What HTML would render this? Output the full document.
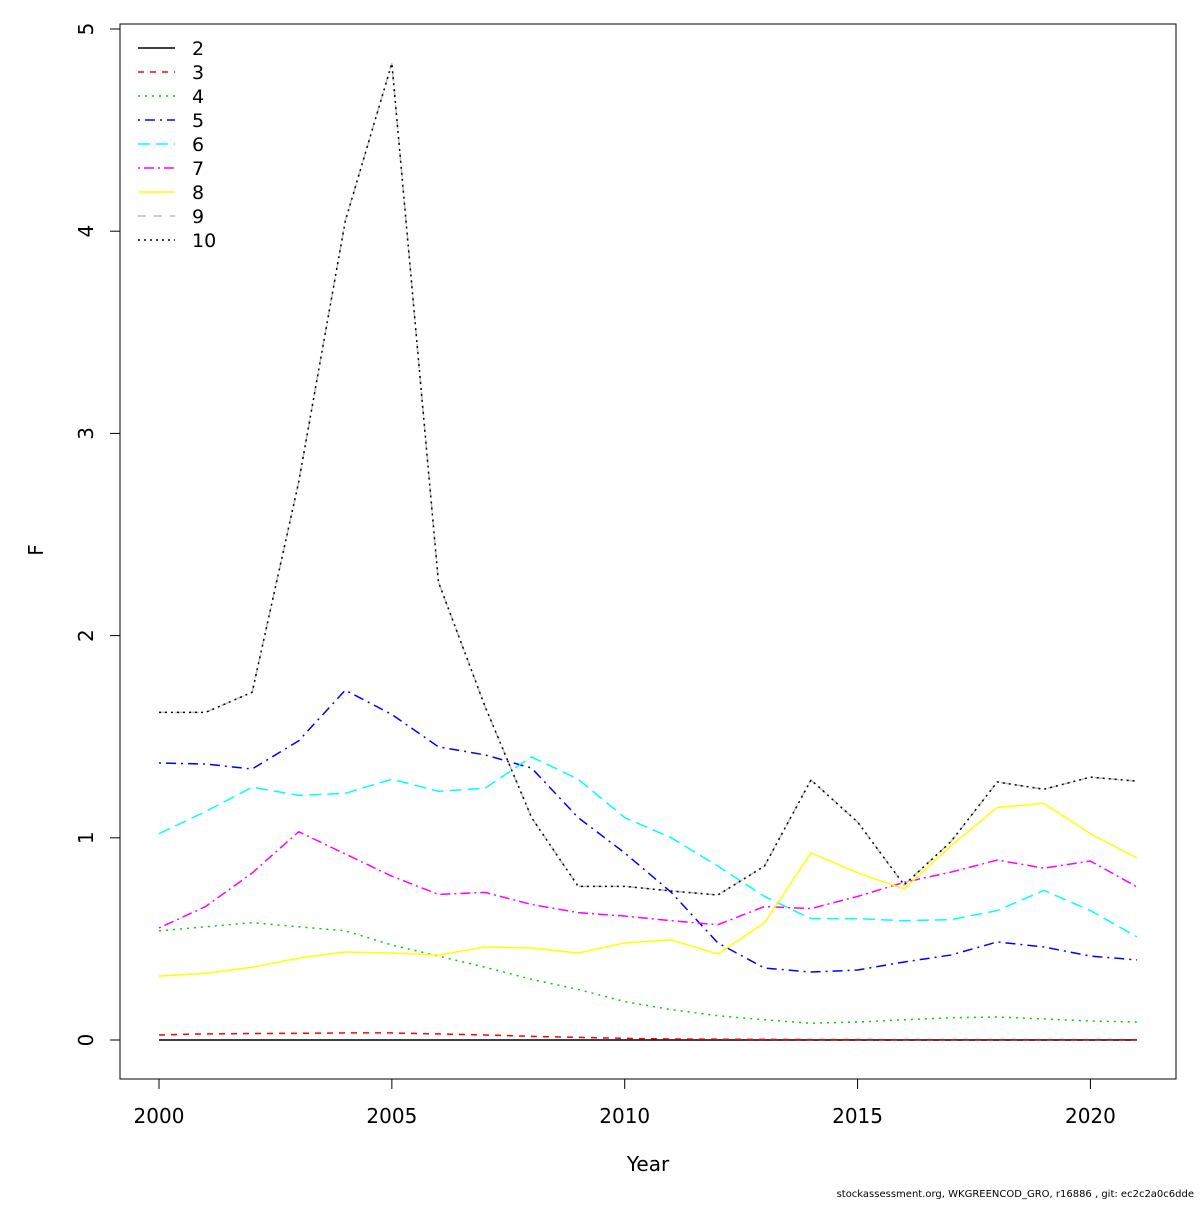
<!DOCTYPE html>
<html><head><meta charset="utf-8"><style>
body{margin:0;background:#fff}
svg text{font-family:"DejaVu Sans","Liberation Sans",sans-serif}
</style></head><body>
<svg id="chart" width="1200" height="1200" xmlns="http://www.w3.org/2000/svg">
<rect x="0" y="0" width="1200" height="1200" fill="#fff"/>
<rect x="120" y="24" width="1056" height="1055" fill="none" stroke="#000" stroke-width="1"/>
<g id="axes"></g><g id="series"></g><g id="legend"></g>
<text x="648" y="1171" font-size="20" text-anchor="middle">Year</text>
<text transform="translate(43,550) rotate(-90)" font-size="20" text-anchor="middle">F</text>
<text x="1194" y="1197" font-size="10" text-anchor="end">stockassessment.org, WKGREENCOD_GRO, r16886 , git: ec2c2a0c6dde</text>
</svg>
<script>
const years=[2000,2001,2002,2003,2004,2005,2006,2007,2008,2009,2010,2011,2012,2013,2014,2015,2016,2017,2018,2019,2020,2021];
const xTicks=[2000,2005,2010,2015,2020];
const yTicks=[0,1,2,3,4,5];
const seriesNames=["2","3","4","5","6","7","8","9","10"];
const a2=[0,0,0,0,0,0,0,0,0,0,0,0,0,0,0,0,0,0,0,0,0,0];
const a3=[0.025,0.03,0.032,0.033,0.035,0.035,0.03,0.025,0.018,0.013,0.008,0.005,0.004,0.003,0.002,0.002,0.001,0.001,0.001,0.001,0.001,0.001];
const a4=[0.54,0.56,0.58,0.56,0.54,0.47,0.415,0.36,0.30,0.25,0.19,0.15,0.12,0.10,0.083,0.089,0.10,0.11,0.114,0.104,0.094,0.089];
const a5=[1.37,1.365,1.34,1.48,1.73,1.61,1.45,1.41,1.345,1.10,0.925,0.73,0.48,0.356,0.336,0.346,0.386,0.42,0.485,0.46,0.415,0.396];
const a6=[1.02,1.13,1.25,1.21,1.22,1.29,1.23,1.245,1.40,1.29,1.10,1.0,0.86,0.71,0.60,0.60,0.59,0.595,0.64,0.74,0.64,0.51];
const a7=[0.554,0.66,0.826,1.03,0.92,0.81,0.72,0.73,0.67,0.63,0.613,0.59,0.57,0.66,0.65,0.71,0.78,0.83,0.89,0.85,0.885,0.757];
const a8=[0.316,0.33,0.36,0.405,0.435,0.43,0.42,0.46,0.455,0.43,0.48,0.495,0.425,0.58,0.925,0.826,0.747,0.96,1.15,1.17,1.02,0.90];
const a9=[1.62,1.62,1.72,2.76,4.05,4.83,2.265,1.65,1.10,0.76,0.76,0.737,0.717,0.86,1.286,1.078,0.767,0.98,1.276,1.24,1.30,1.28];
const a10=[1.62,1.62,1.72,2.76,4.05,4.83,2.265,1.65,1.10,0.76,0.76,0.737,0.717,0.86,1.286,1.078,0.767,0.98,1.276,1.24,1.30,1.28];
const allSeries=[a2,a3,a4,a5,a6,a7,a8,a9,a10];
const colors=["#000","#f00","#0c0","#00f","#0ff","#f0f","#ff0","#bebebe","#000"];
const dashes=["","6,6","2,5","2,5,10,5","12,6","2,4,10,4","","8,8","2,4"];
const NS="http://www.w3.org/2000/svg";
const x=v=>159+(v-2000)*(1137-159)/21;
const y=v=>1040-v*(1040-29)/5;
function mk(tag,attrs,parent){const e=document.createElementNS(NS,tag);for(const k in attrs)e.setAttribute(k,attrs[k]);parent.appendChild(e);return e;}
const axes=document.getElementById('axes');
let l=mk('line',{x1:x(2000),x2:x(2020),y1:1079,y2:1079,stroke:'#000'},axes);
l=mk('line',{x1:120,x2:120,y1:y(0),y2:y(5),stroke:'#000'},axes);
xTicks.forEach(t=>{
 const tk=mk('line',{x1:x(t),x2:x(t),y1:1079,y2:1089,stroke:'#000'},axes);
 
 
 const tx=mk('text',{x:x(t),y:1123,'font-size':20,'text-anchor':'middle'},axes);
 tx.textContent=t;
 
 
});
yTicks.forEach(t=>{
 const tk=mk('line',{x1:110,x2:120,y1:y(t),y2:y(t),stroke:'#000'},axes);
 
 
 const tx=mk('text',{transform:`translate(93,${y(t)}) rotate(-90)`,'font-size':20,'text-anchor':'middle'},axes);
 tx.textContent=t;
 
 
});
const sg=document.getElementById('series');
allSeries.forEach((s,i)=>{
 const pts=s.map((v,j)=>x(years[j])+','+y(v)).join(' ');
 const p=mk('polyline',{points:pts,fill:'none',stroke:colors[i],'stroke-width':1.5},sg);
 if(dashes[i])p.setAttribute('stroke-dasharray',dashes[i]);
 
 
});
const lg=document.getElementById('legend');
seriesNames.forEach((n,i)=>{
 const yy=48+i*24;
 const g=mk('g',{},lg);
 
 
 const ln=mk('line',{x1:138,x2:175,y1:yy,y2:yy,stroke:colors[i],'stroke-width':1.5},g);
 if(dashes[i])ln.setAttribute('stroke-dasharray',dashes[i]);
 const t=mk('text',{x:192,y:yy+7,'font-size':19},g);
 t.textContent=n;
});
</script>
</body></html>
